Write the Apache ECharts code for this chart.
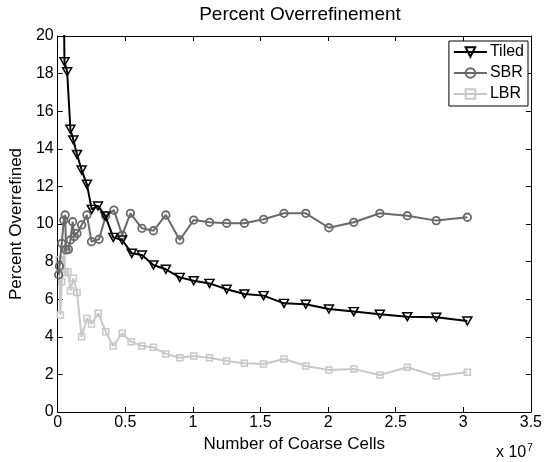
<!DOCTYPE html>
<html>
<head>
<meta charset="utf-8">
<script src="https://cdn.jsdelivr.net/npm/echarts@6/dist/echarts.min.js"></script>
<style>html,body{margin:0;padding:0;background:#fff}#c{width:545px;height:462px}</style>
</head>
<body>
<div id="c"></div>
<script>
// x values in units of 1e7 coarse cells
var tiledX = [0.04, 0.05, 0.07, 0.094, 0.116, 0.143, 0.177, 0.216, 0.252, 0.298, 0.352, 0.411, 0.477, 0.548, 0.623, 0.708, 0.80, 0.903, 1.006, 1.123, 1.25, 1.381, 1.523, 1.674, 1.835, 2.006, 2.19, 2.383, 2.586, 2.80, 3.03];
var tiledY = [26, 18.63, 18.1, 15.04, 14.47, 13.7, 12.87, 12.11, 10.78, 10.96, 10.43, 9.29, 9.15, 8.44, 8.35, 7.82, 7.59, 7.16, 6.98, 6.84, 6.53, 6.28, 6.19, 5.78, 5.73, 5.48, 5.34, 5.2, 5.07, 5.04, 4.84];

var sbrX = [0.007, 0.013, 0.03, 0.045, 0.055, 0.062, 0.079, 0.094, 0.111, 0.123, 0.143, 0.177, 0.216, 0.25, 0.306, 0.355, 0.416, 0.477, 0.538, 0.623, 0.708, 0.80, 0.903, 1.006, 1.123, 1.25, 1.381, 1.523, 1.674, 1.835, 2.006, 2.19, 2.383, 2.586, 2.80, 3.03];
var sbrY = [7.3, 7.75, 8.97, 10.2, 10.48, 8.62, 8.65, 9.15, 10.12, 9.33, 9.5, 9.95, 10.48, 9.06, 9.19, 10.43, 10.74, 9.41, 10.57, 9.77, 9.64, 10.48, 9.15, 10.21, 10.09, 10.04, 10.04, 10.25, 10.57, 10.57, 9.8, 10.09, 10.57, 10.44, 10.18, 10.36];

var lbrX = [0.012, 0.02, 0.03, 0.05, 0.055, 0.075, 0.094, 0.116, 0.143, 0.177, 0.216, 0.25, 0.30, 0.355, 0.41, 0.477, 0.543, 0.623, 0.708, 0.80, 0.903, 1.006, 1.123, 1.25, 1.381, 1.523, 1.674, 1.835, 2.006, 2.19, 2.383, 2.586, 2.80, 3.03];
var lbrY = [8.1, 5.16, 6.93, 8.7, 7.41, 7.46, 6.45, 7.11, 6.35, 4.0, 4.98, 4.68, 5.25, 4.27, 3.51, 4.19, 3.74, 3.51, 3.44, 3.09, 2.89, 2.98, 2.89, 2.71, 2.59, 2.55, 2.82, 2.45, 2.23, 2.29, 1.97, 2.38, 1.91, 2.11];

var xTicks = ['0', '0.5', '1', '1.5', '2', '2.5', '3', '3.5'];
var seriesNames = ['Tiled', 'SBR', 'LBR'];

function pairs(xs, ys) { return xs.map(function (x, i) { return [x, ys[i]]; }); }

var FONT = 'Liberation Sans, Arial, Helvetica, sans-serif';
var chart = echarts.init(document.getElementById('c'), null, { renderer: 'canvas' });

var axisCommon = {
  axisLine: { show: true, onZero: false, lineStyle: { color: '#000', width: 1 } },
  axisTick: { show: true, inside: true, length: 5, lineStyle: { color: '#000' } },
  splitLine: { show: false }
};

chart.setOption({
  animation: false,
  backgroundColor: '#fff',
  title: {
    text: 'Percent Overrefinement',
    left: 295, top: 0, textAlign: 'center',
    textStyle: { fontFamily: FONT, fontSize: 19, fontWeight: 'normal', color: '#000' }
  },
  grid: { left: 56.5, right: 10, top: 36, bottom: 50 },
  legend: {
    data: seriesNames,
    orient: 'vertical',
    right: 17, top: 41,
    backgroundColor: '#fff',
    borderColor: '#000', borderWidth: 1, borderRadius: 0,
    padding: [3, 4, 4, 4],
    itemGap: 5, itemWidth: 33, itemHeight: 12,
    textStyle: { fontFamily: FONT, fontSize: 16, color: '#000', padding: [0, 0, 0, -2] }
  },
  xAxis: [
    Object.assign({}, axisCommon, {
      type: 'value', min: 0, max: 3.5, interval: 0.5, position: 'bottom',
      name: 'Number of Coarse Cells', nameLocation: 'middle', nameGap: 22,
      nameTextStyle: { fontFamily: FONT, fontSize: 17, color: '#000' },
      axisLabel: { fontFamily: FONT, fontSize: 16, color: '#000', margin: 3,
        formatter: function (v) { return xTicks[Math.round(v / 0.5)]; } }
    }),
    Object.assign({}, axisCommon, {
      type: 'value', min: 0, max: 3.5, interval: 0.5, position: 'top',
      axisLabel: { show: false }
    })
  ],
  yAxis: [
    Object.assign({}, axisCommon, {
      type: 'value', min: 0, max: 20, interval: 2, position: 'left',
      name: 'Percent Overrefined', nameLocation: 'middle', nameGap: 31,
      nameTextStyle: { fontFamily: FONT, fontSize: 17, color: '#000' },
      axisLabel: { fontFamily: FONT, fontSize: 16, color: '#000', margin: 4 }
    }),
    Object.assign({}, axisCommon, {
      type: 'value', min: 0, max: 20, interval: 2, position: 'right',
      axisLabel: { show: false }
    })
  ],
  graphic: [{
    type: 'text', left: 496, top: 443,
    style: {
      text: 'x 10{sup|7}',
      font: '16px ' + FONT, fill: '#000',
      rich: { sup: { fontSize: 10, fontFamily: FONT, verticalAlign: 'top', padding: [0, 0, 9, 1] } }
    }
  }],
  series: [
    {
      name: 'LBR', type: 'line', data: pairs(lbrX, lbrY), z: 2,
      symbol: 'rect', symbolSize: 6, showAllSymbol: true,
      lineStyle: { color: '#c8c8c8', width: 2 },
      itemStyle: { color: 'rgba(255,255,255,0)', borderColor: '#c8c8c8', borderWidth: 1.5 }
    },
    {
      name: 'SBR', type: 'line', data: pairs(sbrX, sbrY), z: 3,
      symbol: 'circle', symbolSize: 7.5, showAllSymbol: true,
      lineStyle: { color: '#696969', width: 2 },
      itemStyle: { color: 'rgba(255,255,255,0)', borderColor: '#696969', borderWidth: 1.8 }
    },
    {
      name: 'Tiled', type: 'line', data: pairs(tiledX, tiledY), z: 4,
      symbol: 'triangle', symbolRotate: 180, symbolSize: [9, 8], showAllSymbol: true,
      lineStyle: { color: '#000', width: 2 },
      itemStyle: { color: 'rgba(255,255,255,0)', borderColor: '#000', borderWidth: 1.5 }
    }
  ]
});
</script>
</body>
</html>
